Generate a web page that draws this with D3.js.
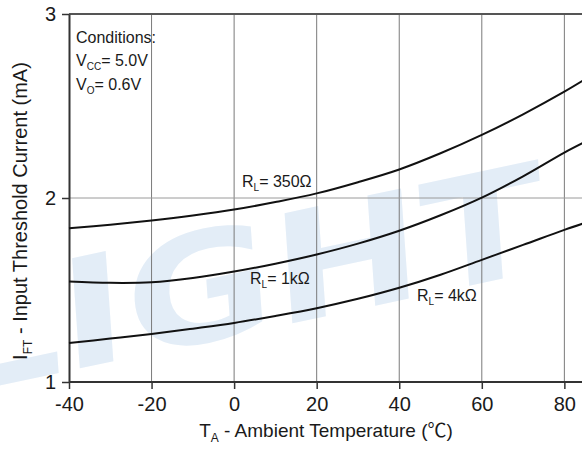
<!DOCTYPE html>
<html>
<head>
<meta charset="utf-8">
<script src="https://cdn.jsdelivr.net/npm/d3@7"></script>
<style>
  body { margin: 0; background: #fff; }
  text { font-family: "Liberation Sans", Arial, sans-serif; fill: #1a1a1a; }
</style>
</head>
<body>
<div id="chart"></div>
<script>
// ambient temperature (°C) and threshold current (mA) per load resistor
const temps = [-40, -30, -20, -10, 0, 10, 20, 30, 40, 50, 60, 70, 80, 85];
const rl350 = [1.835, 1.855, 1.878, 1.905, 1.937, 1.978, 2.025, 2.086, 2.155, 2.243, 2.343, 2.455, 2.578, 2.645];
const rl1k  = [1.546, 1.539, 1.542, 1.565, 1.600, 1.643, 1.693, 1.752, 1.822, 1.906, 2.002, 2.118, 2.247, 2.305];
const rl4k  = [1.212, 1.236, 1.261, 1.290, 1.321, 1.359, 1.401, 1.452, 1.512, 1.583, 1.664, 1.745, 1.827, 1.865];
const seriesNames = ["350Ω", "1kΩ", "4kΩ"];
const xTicks = [-40, -20, 0, 20, 40, 60, 80];
const yTicks = [1, 2, 3];

const width = 582, height = 454;
const margin = { top: 14, left: 69, bottom: 72 };

const svg = d3.select("#chart").append("svg")
  .attr("width", width)
  .attr("height", height);

const x = d3.scaleLinear().domain([-40, 85]).range([margin.left, 585]);
const y = d3.scaleLinear().domain([1, 3]).range([height - margin.bottom, margin.top]);

// faded logo behind the plot
svg.append("text")
  .attr("transform", "translate(-50,396) rotate(-12) skewX(-8)")
  .attr("textLength", 610)
  .attr("lengthAdjust", "spacingAndGlyphs")
  .style("font-family", "'DejaVu Sans', sans-serif")
  .style("font-weight", "bold")
  .style("font-size", "150px")
  .style("fill", "#e3edf7")
  .text("LIGHT");

// grid
svg.append("g")
  .selectAll("line")
  .data(xTicks.slice(1))
  .join("line")
  .attr("x1", d => x(d)).attr("x2", d => x(d))
  .attr("y1", y(3)).attr("y2", y(1))
  .attr("stroke", "#7a7a7a")
  .attr("stroke-width", 1);

svg.append("line")
  .attr("x1", x(-40)).attr("x2", width)
  .attr("y1", y(2)).attr("y2", y(2))
  .attr("stroke", "#9a9a9a")
  .attr("stroke-width", 1);

// top frame
svg.append("line")
  .attr("x1", x(-40)).attr("x2", width)
  .attr("y1", y(3)).attr("y2", y(3))
  .attr("stroke", "#555")
  .attr("stroke-width", 2);

// axes
const xAxis = d3.axisBottom(x).tickValues(xTicks).tickFormat(d => String(d))
  .tickSize(7).tickPadding(8).tickSizeOuter(0);
const yAxis = d3.axisLeft(y).tickValues(yTicks).tickFormat(d => String(d))
  .tickSize(7).tickPadding(6).tickSizeOuter(0);

const gx = svg.append("g")
  .attr("transform", `translate(0,${y(1)})`)
  .call(xAxis);
gx.select(".domain").attr("d", `M${x(-40)},0H${width}`);

const gy = svg.append("g")
  .attr("transform", `translate(${x(-40)},0)`)
  .call(yAxis);

[gx, gy].forEach(g => {
  g.select(".domain").attr("stroke", "#333").attr("stroke-width", 2);
  g.selectAll(".tick line").attr("stroke", "#333").attr("stroke-width", 1.5);
  g.selectAll(".tick text")
    .style("font-size", "20px")
    .style("font-family", "'Liberation Sans', Arial, sans-serif")
    .attr("fill", "#1a1a1a");
});

// curves
const line = d3.line()
  .x((d, i) => x(temps[i]))
  .y(d => y(d))
  .curve(d3.curveCatmullRom);

svg.append("g")
  .selectAll("path")
  .data([rl350, rl1k, rl4k])
  .join("path")
  .attr("d", line)
  .attr("fill", "none")
  .attr("stroke", "#111")
  .attr("stroke-width", 2);

// text with a subscript part
function subText(g, px, py, main, sub, rest, size, subSize, shift) {
  const t = g.append("text")
    .attr("x", px).attr("y", py)
    .style("font-size", size + "px");
  t.append("tspan").text(main);
  t.append("tspan").attr("dy", shift).style("font-size", subSize + "px").text(sub);
  t.append("tspan").attr("dy", -shift).text(rest);
  return t;
}

// curve labels
const labelPos = [[242, 187], [250, 284], [417, 301]];
seriesNames.forEach((n, i) => {
  subText(svg, labelPos[i][0], labelPos[i][1], "R", "L", "= " + n, 16, 10, 4);
});

// conditions box
svg.append("text").attr("x", 76).attr("y", 43).style("font-size", "16px").text("Conditions:");
subText(svg, 76, 66, "V", "CC", "= 5.0V", 16, 10, 4);
subText(svg, 76, 90, "V", "O", "= 0.6V", 16, 10, 4);

// axis titles
const xt = subText(svg, 0, 437, "T", "A", " - Ambient Temperature (", 19, 12, 5);
xt.append("tspan").style("font-family", "'Noto Sans CJK SC', sans-serif").text("℃");
xt.append("tspan").text(")");
const xw = xt.node().getComputedTextLength();
xt.attr("x", 326 - xw / 2);

const yt = svg.append("g").attr("transform", "translate(27,0) rotate(-90)");
const ytt = subText(yt, 0, 0, "I", "FT", " - Input Threshold Current (mA)", 20, 12, 5);
const yw = ytt.node().getComputedTextLength();
ytt.attr("x", -211 - yw / 2);
</script>
</body>
</html>
